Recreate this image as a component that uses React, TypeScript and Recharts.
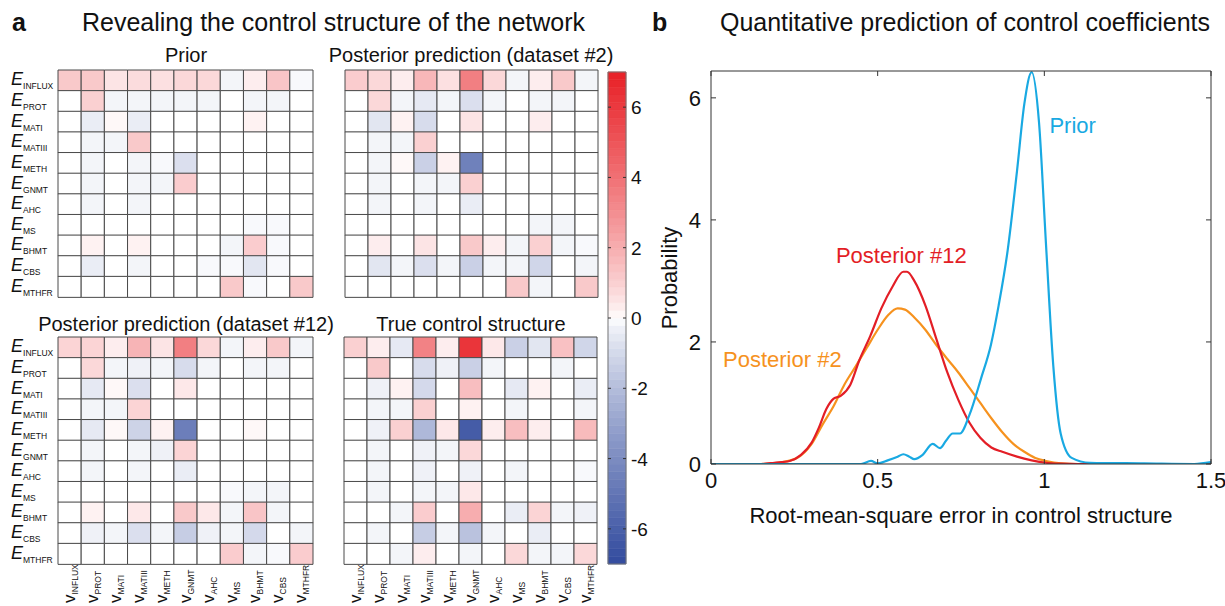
import React from 'react';
import {
  BarChart, Bar, Cell, XAxis, YAxis, LineChart, Line, ComposedChart,
  ReferenceArea, ReferenceDot,
} from 'recharts';

const FONT = '"Liberation Sans", Arial, Helvetica, sans-serif';
const PAGE_W = 1225;
const PAGE_H = 606;
const AX = 1; // thickness reserved by each visible axis

// ---------- Heatmap data ----------
const rowNames = ['INFLUX', 'PROT', 'MATI', 'MATIII', 'METH', 'GNMT', 'AHC', 'MS', 'BHMT', 'CBS', 'MTHFR'];
const colNames = ['INFLUX', 'PROT', 'MATI', 'MATIII', 'METH', 'GNMT', 'AHC', 'MS', 'BHMT', 'CBS', 'MTHFR'];

const priorMatrix = [
  [1.2, 1.2, 0.5, 0.7, 0.6, 0.8, 0.8, -0.2, 0.3, 1.3, -0.1],
  [0, 1.0, -0.2, -0.2, -0.2, -0.2, -0.2, 0, -0.2, -0.2, 0],
  [0, -0.4, 0.1, -0.4, 0, 0, 0, 0, 0.2, 0, 0],
  [0, -0.2, -0.2, 1.2, 0, 0, 0, 0, 0, 0, 0],
  [0, -0.2, 0, -0.2, -0.1, -0.8, 0, 0, 0, 0, 0],
  [0, -0.2, 0, -0.2, -0.2, 1.1, 0, 0, 0, 0, 0],
  [0, -0.2, 0, -0.2, 0, 0, 0, 0, 0, 0, 0],
  [0, 0, 0, 0, 0, 0, 0, 0, -0.1, -0.1, 0],
  [0, 0.2, 0, 0.2, 0, 0, 0, -0.2, 1.1, -0.1, 0],
  [0, -0.4, 0, -0.2, 0, 0, -0.1, -0.1, -0.6, -0.1, 0],
  [0, 0, 0, 0, 0, 0, 0, 1.2, -0.1, 0, 1.2],
];

const posterior2Matrix = [
  [1.1, 0.8, 0.3, 1.7, 0.6, 3.5, 0.8, -0.2, 0.3, 1.2, -0.2],
  [0, 0.8, -0.2, -0.5, -0.2, -0.8, -0.2, 0, -0.2, -0.2, 0],
  [0, -0.6, 0.2, -0.9, 0, 0.5, 0, 0, 0.3, 0, 0],
  [0, -0.2, -0.2, 1.0, 0, 0, 0, 0, 0, 0, 0],
  [0, -0.2, 0.1, -1.3, 0.2, -4.5, 0, 0, 0, 0, 0],
  [0, -0.2, 0, -0.2, -0.2, 1.0, 0, 0, 0, 0, 0],
  [0, -0.2, 0, -0.2, 0, -0.4, 0, 0, 0, 0, 0],
  [0, 0, 0, 0, 0, 0, 0, 0, -0.2, -0.2, 0],
  [0, 0.3, 0, 0.5, 0, 1.2, 0.3, -0.2, 1.0, -0.2, -0.1],
  [0, -0.6, -0.2, -0.8, -0.2, -1.3, -0.2, -0.2, -1.1, 0, -0.2],
  [0, 0, 0, 0, 0, 0, 0, 1.2, -0.2, 0, 1.2],
];

const posterior12Matrix = [
  [0.9, 0.9, 0.3, 1.8, 0.5, 3.5, 0.8, -0.2, 0.3, 1.2, -0.2],
  [0, 0.8, -0.2, -0.3, -0.2, -0.9, -0.2, 0, -0.2, -0.2, 0],
  [0, -0.5, 0.1, -0.8, 0, 0.4, 0, 0, 0, 0, 0],
  [0, -0.2, -0.2, 0.9, 0, 0, 0, 0, 0, 0, 0],
  [0, -0.5, 0.1, -1.2, 0.2, -4.6, 0, 0, 0.1, 0, 0],
  [0, -0.2, 0, -0.2, -0.3, 0.9, 0, 0, 0, 0, 0],
  [0, -0.2, 0, -0.2, 0, -0.4, 0, 0, 0, 0, 0],
  [0, 0, 0, 0, 0, 0, 0, -0.1, -0.2, -0.2, 0],
  [0, 0.2, 0, 0.4, 0, 1.2, 0.4, -0.2, 1.3, -0.2, 0],
  [0, -0.3, -0.2, -0.8, -0.2, -1.4, -0.3, -0.2, -1.0, 0, -0.2],
  [0, 0, 0, 0, 0, 0, 0, 1.1, -0.2, -0.1, 1.1],
];

const trueMatrix = [
  [1.0, 0.3, -0.5, 3.4, 0.3, 6.2, 0.4, -1.3, -0.6, 1.4, -1.1],
  [0, 1.2, 0, -0.9, -0.3, -1.3, -0.2, 0, 0, -0.2, 0],
  [0, -0.3, 0.2, -1.0, 0, 1.5, 0, -0.5, 0.2, 0, -0.4],
  [0, -0.2, -0.2, 1.0, 0, 0.2, 0, -0.2, 0, 0, -0.2],
  [0, -0.3, 1.0, -2.2, 0.4, -6.2, 0.3, 1.5, 0.3, 0, 1.6],
  [0, -0.2, 0, -0.3, -0.2, 0.8, 0, 0, 0, 0, 0],
  [0, -0.2, 0, -0.3, 0, -0.3, 0, -0.2, 0, 0, -0.1],
  [0, -0.2, 0, -0.2, -0.2, 0.4, 0, 0, 0, 0, 0],
  [0, 0, -0.2, 1.1, 0, 2.0, 0, -0.4, 0.9, -0.2, -0.3],
  [0, -0.2, 0, -1.4, -0.2, -1.8, -0.2, 0, -0.4, 0, 0],
  [0, 0, -0.2, 0.3, 0, -0.2, 0, 0.8, -0.2, -0.2, 0.8],
];

const colorbarTicks = [-6, -4, -2, 0, 2, 4, 6];
const colorbarRange = [-7, 7];

// ---------- Density curves ----------
const priorCurve = [
  { x: 0, y: 0 }, { x: 0.3, y: 0 }, { x: 0.45, y: 0 }, { x: 0.48, y: 0.05 }, { x: 0.5, y: 0.01 },
  { x: 0.53, y: 0.06 }, { x: 0.56, y: 0.12 }, { x: 0.577, y: 0.16 }, { x: 0.595, y: 0.12 },
  { x: 0.61, y: 0.08 }, { x: 0.635, y: 0.15 }, { x: 0.665, y: 0.33 }, { x: 0.687, y: 0.26 },
  { x: 0.705, y: 0.38 }, { x: 0.725, y: 0.5 }, { x: 0.747, y: 0.5 }, { x: 0.775, y: 0.8 },
  { x: 0.81, y: 1.4 }, { x: 0.84, y: 1.96 }, { x: 0.863, y: 2.6 }, { x: 0.89, y: 3.5 },
  { x: 0.918, y: 4.8 }, { x: 0.94, y: 5.9 }, { x: 0.962, y: 6.42 }, { x: 0.984, y: 5.6 },
  { x: 1.005, y: 3.6 }, { x: 1.027, y: 1.6 }, { x: 1.049, y: 0.5 }, { x: 1.082, y: 0.1 },
  { x: 1.137, y: 0.02 }, { x: 1.3, y: 0.01 }, { x: 1.45, y: 0 }, { x: 1.5, y: 0.03 },
];

const posterior12Curve = [
  { x: 0, y: 0 }, { x: 0.15, y: 0 }, { x: 0.19, y: 0.02 }, { x: 0.236, y: 0.05 }, { x: 0.27, y: 0.15 },
  { x: 0.302, y: 0.35 }, { x: 0.324, y: 0.6 }, { x: 0.346, y: 0.9 }, { x: 0.368, y: 1.07 },
  { x: 0.39, y: 1.12 }, { x: 0.418, y: 1.3 }, { x: 0.445, y: 1.7 }, { x: 0.478, y: 2.1 },
  { x: 0.511, y: 2.55 }, { x: 0.544, y: 2.9 }, { x: 0.577, y: 3.15 }, { x: 0.588, y: 3.15 },
  { x: 0.61, y: 3.0 }, { x: 0.643, y: 2.6 }, { x: 0.676, y: 2.05 }, { x: 0.709, y: 1.5 },
  { x: 0.742, y: 1.05 }, { x: 0.775, y: 0.68 }, { x: 0.808, y: 0.43 }, { x: 0.841, y: 0.27 },
  { x: 0.874, y: 0.2 }, { x: 0.918, y: 0.12 }, { x: 0.962, y: 0.06 }, { x: 1.005, y: 0.02 },
  { x: 1.05, y: 0.005 }, { x: 1.1, y: 0 }, { x: 1.5, y: 0 },
];

const posterior2Curve = [
  { x: 0, y: 0 }, { x: 0.15, y: 0 }, { x: 0.2, y: 0.02 }, { x: 0.258, y: 0.1 }, { x: 0.302, y: 0.33 },
  { x: 0.335, y: 0.65 }, { x: 0.368, y: 0.95 }, { x: 0.4, y: 1.3 }, { x: 0.434, y: 1.6 },
  { x: 0.467, y: 1.9 }, { x: 0.5, y: 2.2 }, { x: 0.533, y: 2.45 }, { x: 0.56, y: 2.55 },
  { x: 0.582, y: 2.53 }, { x: 0.61, y: 2.4 }, { x: 0.643, y: 2.2 }, { x: 0.676, y: 1.95 },
  { x: 0.709, y: 1.72 }, { x: 0.742, y: 1.5 }, { x: 0.775, y: 1.25 }, { x: 0.808, y: 1.0 },
  { x: 0.841, y: 0.75 }, { x: 0.874, y: 0.52 }, { x: 0.907, y: 0.33 }, { x: 0.94, y: 0.2 },
  { x: 0.973, y: 0.1 }, { x: 1.005, y: 0.05 }, { x: 1.05, y: 0.01 }, { x: 1.1, y: 0 }, { x: 1.5, y: 0 },
];

const xTicksB = [0, 0.5, 1, 1.5];
const yTicksB = [0, 2, 4, 6];
const xDomainB = [0, 1.5];
const yDomainB = [0, 6.44];

const curveLabels = [
  { text: 'Prior', x: 1.085, y: 5.55, color: '#19A9E2' },
  { text: 'Posterior #12', x: 0.571, y: 3.42, color: '#E31E26' },
  { text: 'Posterior #2', x: 0.214, y: 1.71, color: '#F6921E' },
];

// ---------- styling helpers ----------
const RED = [232, 32, 38];
const BLUE = [50, 75, 158];
function cmap(v: number): string {
  const t = Math.pow(Math.min(1, Math.abs(v) / 7), 0.8);
  const c = v >= 0 ? RED : BLUE;
  const r = Math.round(255 + (c[0] - 255) * t);
  const g = Math.round(255 + (c[1] - 255) * t);
  const b = Math.round(255 + (c[2] - 255) * t);
  return `rgb(${r},${g},${b})`;
}

const cellTicks = colNames.map((_, i) => i + 0.5);

const RowTick = (props: any) => {
  const { y, payload } = props;
  return (
    <text x={11} y={y + 5} fontFamily={FONT} fill="#111">
      <tspan fontStyle="italic" fontSize={18}>E</tspan>
      <tspan fontSize={8.5} dy={4}>{payload.value}</tspan>
    </text>
  );
};

const ColTick = (props: any) => {
  const { x, payload } = props;
  const idx = Math.round(payload.value - 0.5);
  return (
    <text transform={`translate(${x + 5},603) rotate(-90)`} fontFamily={FONT} fill="#111">
      <tspan fontSize={17}>v</tspan>
      <tspan fontSize={8.5} dy={3}>{colNames[idx]}</tspan>
    </text>
  );
};

type HeatProps = {
  matrix: number[][]; left: number; top: number; width: number; height: number;
  showRows: boolean; showCols: boolean;
};

function Heatmap({ matrix, left, top, width, height, showRows, showCols }: HeatProps) {
  const data = rowNames.map((name) => {
    const o: any = { name };
    colNames.forEach((_, j) => { o['c' + j] = 1; });
    return o;
  });
  const mLeft = showRows ? left - AX : left;
  const mBottom = PAGE_H - top - height - (showCols ? AX : 0);
  return (
    <div style={{ position: 'absolute', left: 0, top: 0 }}>
      <BarChart
        width={PAGE_W}
        height={PAGE_H}
        layout="vertical"
        data={data}
        barCategoryGap={0}
        barGap={0}
        margin={{ left: mLeft, top, right: PAGE_W - left - width, bottom: mBottom }}
      >
        <XAxis
          type="number"
          domain={[0, 11]}
          ticks={cellTicks}
          interval={0}
          hide={!showCols}
          height={AX}
          axisLine={false}
          tickLine={false}
          tick={<ColTick />}
        />
        <YAxis
          type="category"
          dataKey="name"
          interval={0}
          hide={!showRows}
          width={AX}
          axisLine={false}
          tickLine={false}
          tick={<RowTick />}
        />
        {colNames.map((c, j) => (
          <Bar key={c} dataKey={'c' + j} stackId="s" isAnimationActive={false} stroke="#4a4a4a" strokeWidth={1}>
            {rowNames.map((r, i) => (
              <Cell key={r} fill={cmap(matrix[i][j])} />
            ))}
          </Bar>
        ))}
      </BarChart>
    </div>
  );
}

// colorbar bands (colormap steps)
const CB_STEPS = 64;
const colorbarBands = Array.from({ length: CB_STEPS }, (_, k) => {
  const span = colorbarRange[1] - colorbarRange[0];
  const lo = colorbarRange[0] + (span * k) / CB_STEPS;
  const hi = colorbarRange[0] + (span * (k + 1)) / CB_STEPS;
  return { lo, hi, mid: (lo + hi) / 2 };
});
const colorbarAnchor = [{ x: 0, y: 0 }, { x: 1, y: 0 }];

const CB = { left: 608, right: 626, top: 72, bottom: 564 };

const CbTick = (props: any) => {
  const { y, payload } = props;
  return (
    <g>
      <line x1={CB.left} x2={CB.left + 3} y1={y} y2={y} stroke="#333" />
      <line x1={CB.right - 3} x2={CB.right} y1={y} y2={y} stroke="#333" />
      <text x={631} y={y + 7} fontSize={19} fontFamily={FONT} fill="#111">{payload.value}</text>
    </g>
  );
};

function Colorbar() {
  return (
    <div style={{ position: 'absolute', left: 0, top: 0 }}>
      <ComposedChart
        width={PAGE_W}
        height={PAGE_H}
        data={colorbarAnchor}
        margin={{ left: CB.left, right: PAGE_W - CB.right - AX, top: CB.top, bottom: PAGE_H - CB.bottom }}
      >
        <XAxis type="number" dataKey="x" domain={[0, 1]} hide />
        <YAxis
          type="number"
          domain={colorbarRange}
          ticks={colorbarTicks}
          interval={0}
          orientation="right"
          width={AX}
          axisLine={false}
          tickLine={false}
          tick={<CbTick />}
        />
        {colorbarBands.map((b, k) => (
          <ReferenceArea
            key={k}
            x1={0}
            x2={1}
            y1={b.lo}
            y2={b.hi}
            fill={cmap(b.mid)}
            fillOpacity={1}
            stroke={cmap(b.mid)}
            strokeWidth={0.6}
            ifOverflow="visible"
          />
        ))}
        <ReferenceArea x1={0} x2={1} y1={colorbarRange[0]} y2={colorbarRange[1]} fill="none" fillOpacity={0} stroke="#777" strokeWidth={1} ifOverflow="visible" />
        <Line dataKey="y" stroke="none" strokeWidth={0} dot={false} isAnimationActive={false} />
      </ComposedChart>
    </div>
  );
}

// ---------- Panel b ----------
const PB = { left: 711, right: 1211, top: 71, bottom: 464 };
const fmt = (v: number) => String(v);

const BottomTick = (props: any) => {
  const { x, payload } = props;
  return (
    <g>
      <line x1={x} x2={x} y1={PB.bottom} y2={PB.bottom - 5} stroke="#333" />
      <text x={x} y={PB.bottom + 24} textAnchor="middle" fontSize={22} fontFamily={FONT} fill="#111">{fmt(payload.value)}</text>
    </g>
  );
};
const TopTick = (props: any) => {
  const { x } = props;
  return <line x1={x} x2={x} y1={PB.top} y2={PB.top + 5} stroke="#333" />;
};
const LeftTick = (props: any) => {
  const { y, payload } = props;
  return (
    <g>
      <line x1={PB.left} x2={PB.left + 5} y1={y} y2={y} stroke="#333" />
      <text x={PB.left - 10} y={y + 8} textAnchor="end" fontSize={22} fontFamily={FONT} fill="#111">{fmt(payload.value)}</text>
    </g>
  );
};
const RightTick = (props: any) => {
  const { y } = props;
  return <line x1={PB.right} x2={PB.right - 5} y1={y} y2={y} stroke="#333" />;
};

function PanelB() {
  return (
    <div style={{ position: 'absolute', left: 0, top: 0 }}>
      <LineChart
        width={PAGE_W}
        height={PAGE_H}
        margin={{
          left: PB.left - AX,
          right: PAGE_W - PB.right - AX,
          top: PB.top - AX,
          bottom: PAGE_H - PB.bottom - AX,
        }}
      >
        <XAxis type="number" dataKey="x" domain={xDomainB} ticks={xTicksB} interval={0} height={AX}
          axisLine={{ stroke: '#333' }} tickLine={false} tick={<BottomTick />} allowDataOverflow />
        <XAxis xAxisId="top" orientation="top" type="number" dataKey="x" domain={xDomainB} ticks={xTicksB} interval={0} height={AX}
          axisLine={{ stroke: '#333' }} tickLine={false} tick={<TopTick />} allowDataOverflow />
        <YAxis type="number" domain={yDomainB} ticks={yTicksB} interval={0} width={AX}
          axisLine={{ stroke: '#333' }} tickLine={false} tick={<LeftTick />} allowDataOverflow />
        <YAxis yAxisId="right" orientation="right" type="number" domain={yDomainB} ticks={yTicksB} interval={0} width={AX}
          axisLine={{ stroke: '#333' }} tickLine={false} tick={<RightTick />} allowDataOverflow />
        <Line data={posterior2Curve} dataKey="y" type="monotone" stroke="#F6921E" strokeWidth={2.2} dot={false} isAnimationActive={false} />
        <Line data={posterior12Curve} dataKey="y" type="monotone" stroke="#E31E26" strokeWidth={2.2} dot={false} isAnimationActive={false} />
        <Line data={priorCurve} dataKey="y" type="monotone" stroke="#19A9E2" strokeWidth={2.2} dot={false} isAnimationActive={false} />
        {curveLabels.map((l) => (
          <ReferenceDot key={l.text} x={l.x} y={l.y} r={0} fill="none" stroke="none" ifOverflow="visible"
            label={{ value: l.text, position: 'center', fill: l.color, fontSize: 22, fontFamily: FONT }} />
        ))}
      </LineChart>
    </div>
  );
}

function Titles() {
  return (
    <svg width={PAGE_W} height={PAGE_H} style={{ position: 'absolute', left: 0, top: 0, pointerEvents: 'none' }}>
      <g fontFamily={FONT} fill="#111">
        <text x={12} y={31} fontSize={25} fontWeight="bold">a</text>
        <text x={82} y={31} fontSize={25}>Revealing the control structure of the network</text>
        <text x={652} y={31} fontSize={25} fontWeight="bold">b</text>
        <text x={965} y={31} fontSize={25} textAnchor="middle">Quantitative prediction of control coefficients</text>
        <text x={186} y={62} fontSize={20} textAnchor="middle">Prior</text>
        <text x={471} y={62} fontSize={20} textAnchor="middle">Posterior prediction (dataset #2)</text>
        <text x={186} y={331} fontSize={20} textAnchor="middle">Posterior prediction (dataset #12)</text>
        <text x={471} y={331} fontSize={20} textAnchor="middle">True control structure</text>
        <text transform="translate(677,278) rotate(-90)" fontSize={22} textAnchor="middle">Probability</text>
        <text x={961} y={523} fontSize={22} textAnchor="middle">Root-mean-square error in control structure</text>
      </g>
    </svg>
  );
}

export default function App() {
  return (
    <div style={{ position: 'absolute', left: 0, top: 0, width: PAGE_W, height: PAGE_H, background: '#fff', overflow: 'hidden' }}>
      <Heatmap matrix={priorMatrix} left={58} top={70} width={255} height={227} showRows showCols={false} />
      <Heatmap matrix={posterior2Matrix} left={345} top={70} width={253} height={227} showRows={false} showCols={false} />
      <Heatmap matrix={posterior12Matrix} left={58} top={337} width={255} height={227} showRows showCols />
      <Heatmap matrix={trueMatrix} left={344} top={337} width={253} height={227} showRows={false} showCols />
      <Colorbar />
      <PanelB />
      <Titles />
    </div>
  );
}
